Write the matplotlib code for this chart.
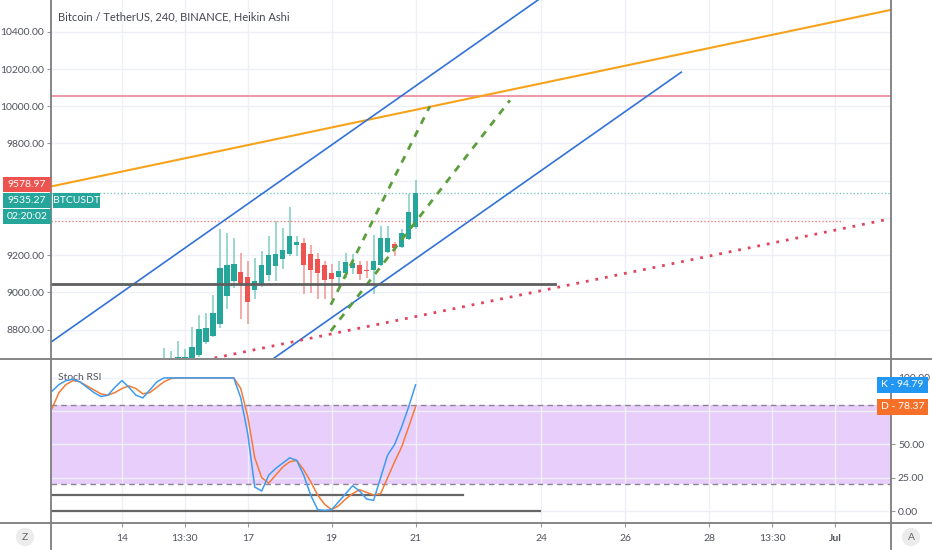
import numpy as np
import pandas as pd
import matplotlib
matplotlib.use('Agg')
import matplotlib.pyplot as plt
import matplotlib.dates as mdates
from matplotlib.lines import Line2D
from matplotlib.patches import Rectangle

plt.rcParams['font.family'] = ['Lato', 'DejaVu Sans']

# BTCUSDT 4h Heikin Ashi bars
bar_start = '2020-06-15 00:00'
ha_open = [8600, 8610, 8620, 8630, 8631, 8663, 8733, 8766, 8830, 8981, 9062, 9110, 9084, 9013, 9040, 9094, 9143, 9181, 9208,
           9256, 9267, 9208, 9181, 9148, 9105, 9084, 9105, 9132, 9148, 9121, 9121, 9148, 9218, 9261, 9245, 9288, 9353]
ha_close = [8640, 8640, 8652, 8655, 8706, 8803, 8809, 8889, 9132, 9148, 9154, 9046, 8949, 9062, 9148, 9202, 9208, 9229, 9305,
            9272, 9148, 9121, 9105, 9067, 9073, 9116, 9164, 9159, 9100, 9116, 9170, 9294, 9294, 9240, 9321, 9429, 9535.27]
ha_high = [8701, 8685, 8739, 8695, 8814, 8879, 8889, 8987, 9342, 9321, 9294, 9213, 9170, 9186, 9224, 9305, 9385, 9348, 9456,
           9305, 9290, 9256, 9213, 9170, 9150, 9170, 9213, 9208, 9170, 9170, 9310, 9358, 9358, 9270, 9342, 9531, 9601]
ha_low = [8580, 8590, 8600, 8610, 8620, 8650, 8722, 8760, 8809, 8911, 9024, 8857, 8830, 8965, 9030, 9062, 9062, 9127, 9197,
          9197, 8992, 8997, 8965, 8965, 8965, 9035, 9078, 9100, 9065, 9078, 8990, 9140, 9210, 9197, 9240, 9280, 9340]

# stoch rsi, same 4h bars, ending 2020-06-21 00:00
stoch_end = '2020-06-21 00:00'
stoch_k = [90, 95, 98, 99, 97, 93, 89, 86, 87, 93, 98, 93, 87, 85, 91, 97, 100, 100,
           100, 100, 100, 100, 100, 100, 100, 100, 100, 85, 58, 18, 15, 27, 32, 36,
           40, 38, 27, 12, 1, 0.5, 1, 7, 13, 19, 15, 9, 8, 25, 42, 50, 63, 78, 94.79]
stoch_d = [77, 89, 95, 98, 97, 94, 91, 88, 87, 89, 92, 94, 92, 88, 89, 93, 97, 99.5,
           100, 100, 100, 100, 100, 100, 100, 100, 100, 92, 71, 40, 25, 21, 27, 33,
           37, 38, 31, 22, 12, 5, 1, 4, 9, 13, 16, 14, 12, 13, 25, 37, 48, 63, 78.37]

# drawings (time, price)
orange_line = [('2020-06-12 07:30', 9569), ('2020-07-02 08:00', 10518)]
blue_upper = [('2020-06-12 07:30', 8733), ('2020-06-24 00:00', 10584)]
blue_lower = [('2020-06-16 12:00', 8468), ('2020-06-27 08:00', 10183)]
green_fast = [('2020-06-18 23:30', 8933), ('2020-06-21 08:10', 10000)]
green_slow = [('2020-06-18 23:30', 8792), ('2020-06-23 06:00', 10032)]
red_trend = [('2020-06-16 02:24', 8642), ('2020-07-02 08:00', 9396)]
pink_level = 10054
last_price = 9535.27
red_level, red_level_end = 9385, '2020-07-01 04:30'
black_level, black_level_end = 9046, '2020-06-24 07:40'
stoch_lines = [(12, '2020-06-22 03:00'), (0.3, '2020-06-23 23:00')]

price_ticks = [8800, 9000, 9200, 9400, 9600, 9800, 10000, 10200, 10400]
price_labels = ['8800.00', '9000.00', '9200.00', '', '', '9800.00', '10000.00', '10200.00', '10400.00']
stoch_ticks = [0, 25, 50, 75, 100]
stoch_labels = ['0.00', '25.00', '50.00', '', '100.00']
x_tick_times = ['2020-06-14 00:00', '2020-06-15 12:00', '2020-06-17 00:00', '2020-06-19 00:00', '2020-06-21 00:00',
                '2020-06-24 00:00', '2020-06-26 00:00', '2020-06-28 00:00', '2020-06-29 12:00', '2020-07-01 00:00']
x_tick_labels = ['14', '13:30', '17', '19', '21', '24', '26', '28', '13:30', 'Jul']

W, H = 932, 550


def fx(x):
    return x / W


def fy(y):
    return 1 - y / H


def t(s):
    return mdates.date2num(pd.Timestamp(s))


def seg(pts):
    return [t(p[0]) for p in pts], [p[1] for p in pts]


fig = plt.figure(figsize=(W / 100, H / 100), dpi=100)
fig.patch.set_facecolor('white')
ax1 = fig.add_axes([fx(51), fy(358), fx(840), 358 / H])
ax2 = fig.add_axes([fx(51), fy(523), fx(840), 164 / H])

xlim = (t('2020-06-12 07:26'), t('2020-07-02 08:00'))
xticks = [t(s) for s in x_tick_times]
grid_c = '#eef0f5'
txt_c = '#50535e'

# --- price panel
bars = pd.date_range(bar_start, periods=len(ha_open), freq='4h')
bx = mdates.date2num(bars)
o = np.array(ha_open)
c = np.array(ha_close)
up = c >= o
body_c = np.where(up, '#26a69a', '#ef5350')
wick_c = np.where(up, '#7fcbc2', '#f39593')
ax1.vlines(bx, ha_low, ha_high, colors=wick_c, lw=1.1, zorder=3)
ax1.bar(bx, np.abs(c - o), bottom=np.minimum(o, c), width=0.13, color=body_c, zorder=4)

xs, ys = seg(orange_line)
ax1.axline((xs[0], ys[0]), (xs[1], ys[1]), color='#f7a21b', lw=1.5, zorder=5)
xs, ys = seg(blue_upper)
ax1.axline((xs[0], ys[0]), (xs[1], ys[1]), color='#3272d8', lw=1.2, zorder=5)
xs, ys = seg(blue_lower)
ax1.plot(xs, ys, color='#3272d8', lw=1.2, zorder=5)
for g in (green_fast, green_slow):
    xs, ys = seg(g)
    ax1.plot(xs, ys, color='#5c9e3c', lw=2, ls=(0, (2.6, 2.6)), zorder=5)
xs, ys = seg(red_trend)
ax1.axline((xs[0], ys[0]), (xs[1], ys[1]), color='#e0455f', lw=2, ls=(0, (1, 2.5)), zorder=5)

ax1.axhline(pink_level, color='#ee9aaa', lw=1.5, zorder=2)
ax1.axhline(last_price, color='#7ec9c1', lw=1, ls=(0, (1, 1.5)), zorder=2)
ax1.plot([xlim[0], t(red_level_end)], [red_level] * 2, color='#f07f7a', lw=1, ls=(0, (1, 1.5)), zorder=2)
ax1.plot([xlim[0], t(black_level_end)], [black_level] * 2, color='#5f5f5f', lw=2, zorder=6)

ax1.set_xlim(xlim)
ax1.set_ylim(8647, 10571)
ax1.set_yticks(price_ticks)
ax1.set_yticklabels(price_labels)
ax1.set_xticks(xticks)
ax1.set_xticklabels([])
ax1.grid(True, color=grid_c, lw=1, zorder=0)
ax1.tick_params(axis='y', left=True, length=3, color='#999', labelsize=7.5, labelcolor=txt_c, pad=2)
ax1.tick_params(axis='x', length=0)
for s in ax1.spines.values():
    s.set_visible(False)
ax1.set_axisbelow(True)

# --- stoch rsi panel
st = mdates.date2num(pd.date_range(end=stoch_end, periods=len(stoch_k), freq='4h'))
ax2.axhspan(20, 80, color='#e8cffb', lw=0, zorder=1)
ax2.axhline(80, color='#8c8296', lw=1, ls=(0, (4, 3)), zorder=2)
ax2.axhline(20, color='#8c8296', lw=1, ls=(0, (4, 3)), zorder=2)
for lvl, end in stoch_lines:
    ax2.plot([xlim[0], t(end)], [lvl] * 2, color='#666', lw=1.6, zorder=3)
ax2.plot(st, stoch_k, color='#3d9cf0', lw=1.1, zorder=5)
ax2.plot(st, stoch_d, color='#f47b36', lw=1.1, zorder=4)
ax2.set_xlim(xlim)
ax2.set_ylim(-9, 114.2)
ax2.set_yticks(stoch_ticks)
ax2.set_yticklabels(stoch_labels)
ax2.yaxis.tick_right()
ax2.set_xticks(xticks)
ax2.set_xticklabels(x_tick_labels)
ax2.get_xticklabels()[-1].set_fontweight('bold')
ax2.grid(True, color=grid_c, lw=1, zorder=0)
ax2.tick_params(axis='y', right=True, length=3, color='#999', labelsize=7.5, labelcolor=txt_c, pad=2)
ax2.tick_params(axis='x', length=3, color='#999', labelsize=7.5, labelcolor=txt_c, pad=5)
for s in ax2.spines.values():
    s.set_visible(False)
ax2.text(0.008, 0.89, 'Stoch RSI', transform=ax2.transAxes, fontsize=7.5, color=txt_c, va='center')

# frame lines
frame_c = '#7d7d7d'
for x0, y0, x1, y1 in [(51, 0, 51, 550), (891, 0, 891, 550), (0, 358.5, 932, 358.5), (0, 523, 932, 523)]:
    fig.add_artist(Line2D([fx(x0), fx(x1)], [fy(y0), fy(y1)], color=frame_c, lw=1.3, transform=fig.transFigure))

fig.text(fx(58), fy(17), 'Bitcoin / TetherUS, 240, BINANCE, Heikin Ashi', fontsize=8, color='#44474f', va='center')


def tag(x, y_center, w, h, text, color, fs=7.5):
    fig.add_artist(Rectangle((fx(x), fy(y_center + h / 2)), w / W, h / H, transform=fig.transFigure,
                             fc=color, ec='none', zorder=10))
    fig.text(fx(x + w / 2), fy(y_center), text, color='white', fontsize=fs, ha='center', va='center', zorder=11)


# price tags stacked from the orange line value at the left edge
y_or = H - ax1.transData.transform((xlim[0], 9578.97))[1]
tag(3, y_or, 48, 15.5, '9578.97', '#ef5350')
tag(3, y_or + 16, 48, 15.5, '%.2f' % last_price, '#26a69a')
tag(53, y_or + 16, 47, 15.5, 'BTCUSDT', '#26a69a')
tag(3, y_or + 32, 48, 15.5, '02:20:02', '#26a69a')

yk = H - ax2.transData.transform((xlim[1], stoch_k[-1]))[1]
yd = H - ax2.transData.transform((xlim[1], stoch_d[-1]))[1]
tag(877, yk, 51, 16, 'K - %.2f' % stoch_k[-1], '#2196f3')
tag(877, yd, 51, 16, 'D - %.2f' % stoch_d[-1], '#f6702a')

for x, s in [(25, 'Z'), (911, 'A')]:
    fig.text(fx(x), fy(537), s, fontsize=7.5, color='#666', ha='center', va='center',
             bbox=dict(boxstyle='circle,pad=0.45', fc='#ececec', ec='none'))

plt.savefig('out.png', dpi=100)
